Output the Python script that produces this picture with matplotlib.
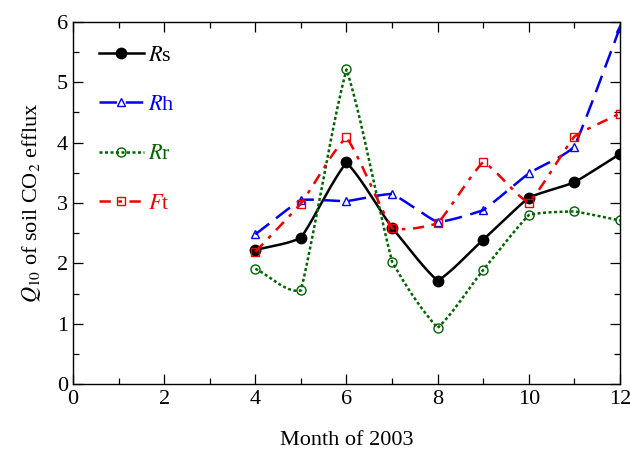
import numpy as np
import matplotlib
matplotlib.use("Agg")
import matplotlib.pyplot as plt
from matplotlib.ticker import MultipleLocator

plt.rcParams['font.family'] = ['Liberation Serif', 'DejaVu Serif']
plt.rcParams['mathtext.fontset'] = 'stix'

# data
months = [4, 5, 6, 7, 8, 9, 10, 11, 12]
rs = [2.22, 2.42, 3.67, 2.59, 1.71, 2.39, 3.09, 3.34, 3.81]
rh = [2.48, 3.05, 3.03, 3.15, 2.68, 2.88, 3.49, 3.93, 5.90]
rr = [1.91, 1.55, 5.21, 2.03, 0.93, 1.89, 2.80, 2.86, 2.71]
ft = [2.19, 2.99, 4.09, 2.58, 2.66, 3.68, 3.00, 4.10, 4.48]


def smooth(x, y, a=0.75, n=30):
    # hermite segments, end tangents blend segment slope and central slope
    x = np.asarray(x, float)
    y = np.asarray(y, float)
    sec = np.diff(y)
    cen = np.empty_like(y)
    cen[1:-1] = (y[2:] - y[:-2]) / 2
    cen[0] = sec[0]
    cen[-1] = sec[-1]
    t = np.linspace(0, 1, n)
    h00 = 2 * t ** 3 - 3 * t ** 2 + 1
    h10 = t ** 3 - 2 * t ** 2 + t
    h01 = -2 * t ** 3 + 3 * t ** 2
    h11 = t ** 3 - t ** 2
    xs, ys = [], []
    for i in range(len(x) - 1):
        m0 = a * sec[i] + (1 - a) * cen[i]
        m1 = a * sec[i] + (1 - a) * cen[i + 1]
        xs.extend(x[i] + (x[i + 1] - x[i]) * t)
        ys.extend(h00 * y[i] + h10 * m0 + h01 * y[i + 1] + h11 * m1)
    return xs, ys


fig = plt.figure(figsize=(6.3, 4.54), dpi=100)
ax = fig.add_axes([0.116, 0.154, 0.868, 0.798])

series = [
    (rs, 'black', '-', 'o', 'black', 7.5, r'$\mathit{R}$s'),
    (rh, '#0000ee', (0, (7, 3.5)), '^', 'none', 6, r'$\mathit{R}$h'),
    (rr, '#006400', (0, (1.2, 1.0)), 'o', 'none', 6.5, r'$\mathit{R}$r'),
    (ft, '#ee0000', (0, (4.5, 3, 1.5, 3)), 's', 'none', 5.5, r'$\mathit{F}$t'),
]

for vals, col, ls, mk, fc, ms, lab in series:
    sx, sy = smooth(months, vals)
    ax.plot(sx, sy, color=col, ls=ls, lw=1.8)
    ax.plot(months, vals, ls='none', marker=mk, color=col, mfc=fc,
            mec=col, ms=ms, mew=1.0)
    ax.plot([], [], color=col, ls=ls, lw=1.8, marker=mk, mfc=fc, mec=col,
            ms=ms, mew=1.0, label=lab)

ax.set_xlim(0, 12)
ax.set_ylim(0, 6)
ax.xaxis.set_major_locator(MultipleLocator(2))
ax.xaxis.set_minor_locator(MultipleLocator(1))
ax.yaxis.set_major_locator(MultipleLocator(1))
ax.yaxis.set_minor_locator(MultipleLocator(0.5))
ax.tick_params(which='both', direction='in', top=True, right=True,
               labelsize=16, width=0.9)
ax.tick_params(which='major', length=7)
ax.tick_params(which='minor', length=4)
ax.tick_params(axis='x', pad=4)
for s in ax.spines.values():
    s.set_linewidth(1.0)

ax.set_xlabel('Month of 2003', fontsize=16, labelpad=16)
ax.set_ylabel(r'$Q_{10}$ of soil CO$_2$ efflux', fontsize=16, labelpad=10)

leg = ax.legend(loc='upper left', frameon=False, fontsize=16,
                labelspacing=1.3, handlelength=2.0, handletextpad=0.2,
                borderaxespad=0.4, bbox_to_anchor=(0.015, 0.985),
                labelcolor='linecolor')

fig.savefig('out.png', dpi=100)
